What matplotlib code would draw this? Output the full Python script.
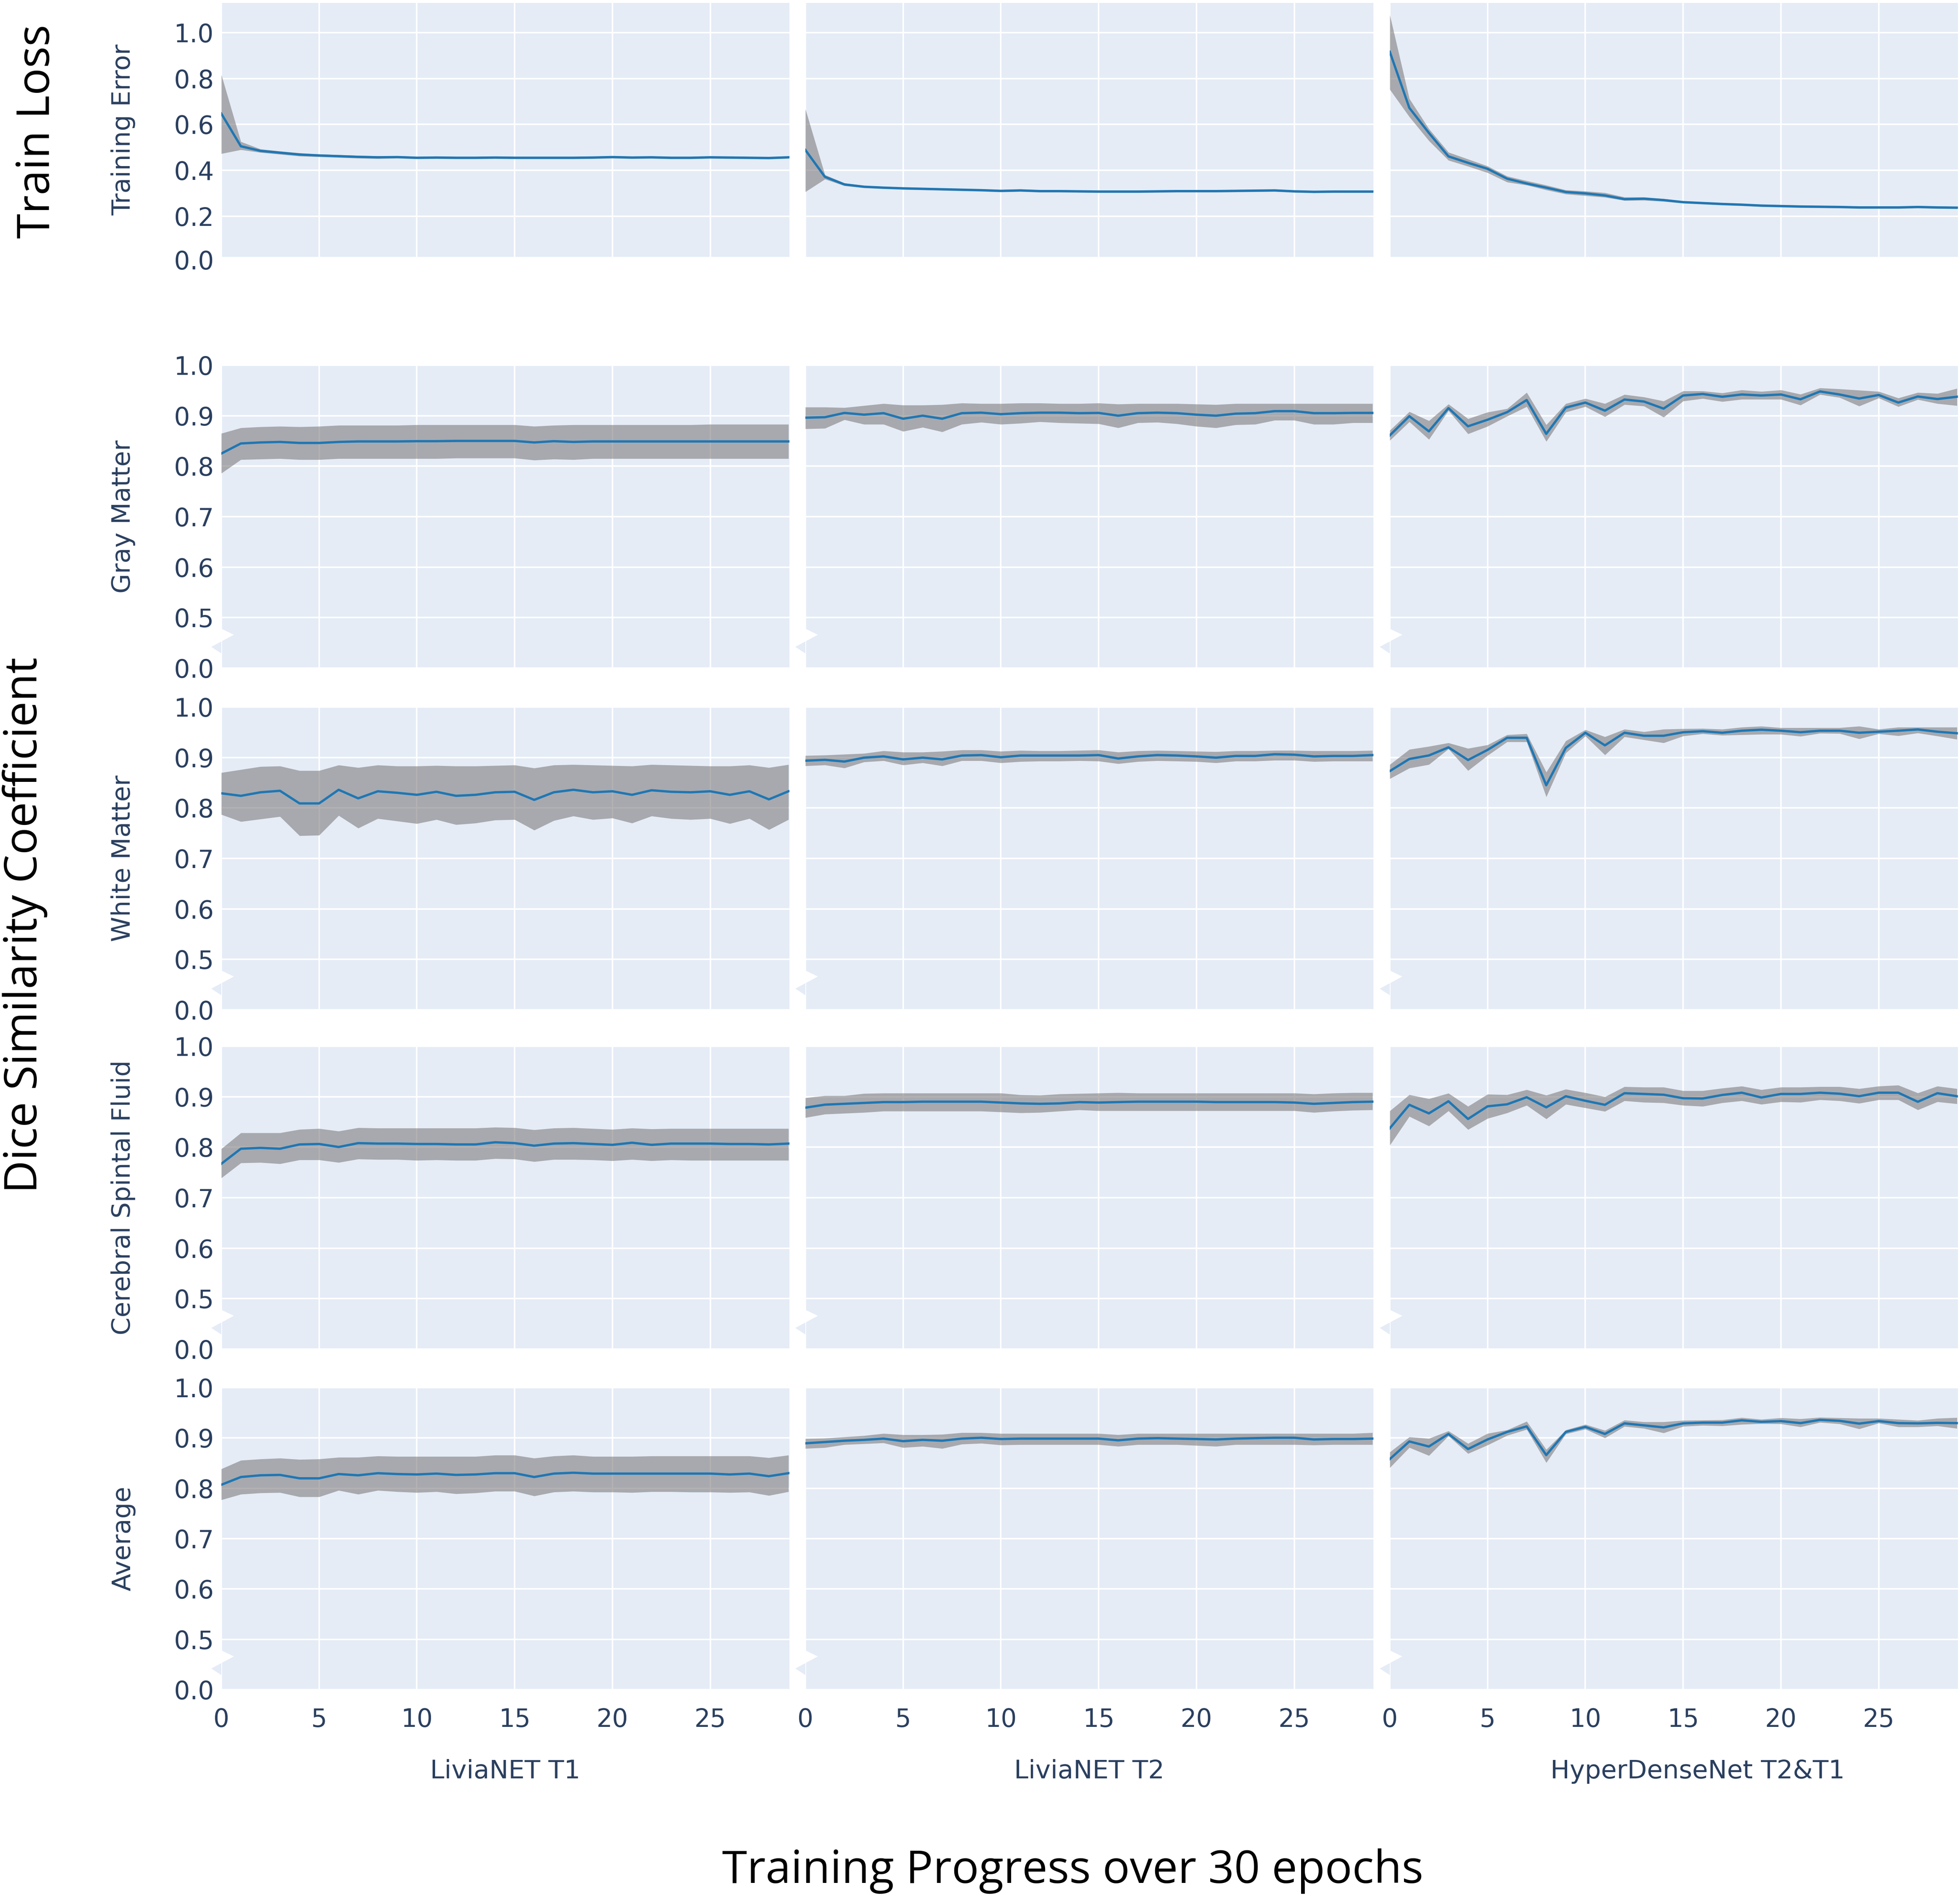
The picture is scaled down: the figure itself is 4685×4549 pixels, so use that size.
import numpy as np
import matplotlib
matplotlib.use('Agg')
from matplotlib import pyplot as plt
from matplotlib.patches import Polygon

epochs = np.arange(30)

models = ['LiviaNET T1', 'LiviaNET T2', 'HyperDenseNet T2&T1']
metrics = ['Training Error', 'Gray Matter', 'White Matter', 'Cerebral Spintal Fluid', 'Average']

# ---- train loss (mean, upper, lower) ----
loss_t1 = [0.647, 0.505, 0.485, 0.477, 0.469, 0.465, 0.462, 0.459, 0.457, 0.458, 0.455, 0.456, 0.455, 0.455, 0.456,
           0.455, 0.455, 0.455, 0.455, 0.456, 0.458, 0.456, 0.457, 0.455, 0.455, 0.457, 0.456, 0.455, 0.454, 0.457]
loss_t1_hi = [0.816, 0.525, 0.493, 0.484, 0.476, 0.471, 0.468, 0.465, 0.463, 0.463, 0.460, 0.461, 0.460, 0.460, 0.461,
              0.460, 0.460, 0.460, 0.460, 0.461, 0.463, 0.461, 0.462, 0.460, 0.460, 0.462, 0.461, 0.460, 0.459, 0.462]
loss_t1_lo = [0.473, 0.490, 0.478, 0.470, 0.462, 0.459, 0.456, 0.453, 0.451, 0.453, 0.450, 0.451, 0.450, 0.450, 0.451,
              0.450, 0.450, 0.450, 0.450, 0.451, 0.453, 0.451, 0.452, 0.450, 0.450, 0.452, 0.451, 0.450, 0.449, 0.452]

loss_t2 = [0.489, 0.372, 0.339, 0.329, 0.325, 0.322, 0.320, 0.318, 0.316, 0.314, 0.311, 0.313, 0.310, 0.310, 0.309,
           0.308, 0.308, 0.308, 0.309, 0.310, 0.310, 0.310, 0.311, 0.312, 0.313, 0.309, 0.307, 0.308, 0.308, 0.308]
loss_t2_hi = [0.667, 0.381, 0.345, 0.334, 0.330, 0.327, 0.325, 0.323, 0.321, 0.319, 0.316, 0.318, 0.315, 0.315, 0.314,
              0.313, 0.313, 0.313, 0.314, 0.315, 0.315, 0.315, 0.316, 0.317, 0.318, 0.314, 0.312, 0.313, 0.313, 0.313]
loss_t2_lo = [0.307, 0.362, 0.333, 0.324, 0.320, 0.317, 0.315, 0.313, 0.311, 0.309, 0.306, 0.308, 0.305, 0.305, 0.304,
              0.303, 0.303, 0.303, 0.304, 0.305, 0.305, 0.305, 0.306, 0.307, 0.308, 0.304, 0.302, 0.303, 0.303, 0.303]

loss_hd = [0.916, 0.672, 0.563, 0.461, 0.433, 0.407, 0.364, 0.343, 0.325, 0.306, 0.300, 0.291, 0.275, 0.277, 0.271,
           0.262, 0.258, 0.254, 0.251, 0.247, 0.245, 0.243, 0.242, 0.241, 0.239, 0.239, 0.239, 0.241, 0.239, 0.238]
loss_hd_hi = [1.076, 0.712, 0.581, 0.479, 0.449, 0.419, 0.375, 0.355, 0.336, 0.315, 0.310, 0.303, 0.284, 0.284, 0.277,
              0.267, 0.263, 0.259, 0.256, 0.252, 0.250, 0.248, 0.247, 0.246, 0.244, 0.244, 0.244, 0.246, 0.244, 0.243]
loss_hd_lo = [0.752, 0.633, 0.529, 0.444, 0.418, 0.390, 0.349, 0.336, 0.315, 0.297, 0.290, 0.283, 0.269, 0.270, 0.265,
              0.257, 0.253, 0.249, 0.246, 0.242, 0.240, 0.238, 0.237, 0.236, 0.234, 0.234, 0.234, 0.236, 0.234, 0.233]

# ---- gray matter dice ----
gm_t1 = [0.825, 0.845, 0.847, 0.848, 0.846, 0.846, 0.848, 0.849, 0.849, 0.849, 0.8495, 0.8495, 0.850, 0.850, 0.850,
         0.850, 0.847, 0.8495, 0.848, 0.849, 0.849, 0.849, 0.849, 0.849, 0.849, 0.849, 0.849, 0.849, 0.849, 0.849]
gm_t1_hi = [0.865, 0.876, 0.878, 0.879, 0.878, 0.879, 0.881, 0.881, 0.881, 0.881, 0.882, 0.882, 0.882, 0.882, 0.882,
            0.882, 0.879, 0.881, 0.882, 0.882, 0.882, 0.882, 0.882, 0.882, 0.882, 0.883, 0.883, 0.883, 0.883, 0.883]
gm_t1_lo = [0.786, 0.813, 0.814, 0.815, 0.813, 0.813, 0.815, 0.815, 0.815, 0.815, 0.815, 0.815, 0.816, 0.816, 0.816,
            0.816, 0.812, 0.814, 0.813, 0.815, 0.815, 0.815, 0.815, 0.815, 0.815, 0.815, 0.815, 0.815, 0.815, 0.815]

gm_t2 = [0.896, 0.897, 0.9055, 0.902, 0.905, 0.894, 0.900, 0.894, 0.905, 0.906, 0.903, 0.905, 0.906, 0.906, 0.905,
         0.9055, 0.900, 0.905, 0.906, 0.905, 0.902, 0.900, 0.904, 0.905, 0.909, 0.909, 0.905, 0.905, 0.9055, 0.9055]
gm_t2_hi = [0.917, 0.917, 0.916, 0.920, 0.924, 0.921, 0.921, 0.922, 0.925, 0.924, 0.924, 0.925, 0.925, 0.924, 0.924,
            0.925, 0.923, 0.924, 0.924, 0.924, 0.923, 0.922, 0.924, 0.924, 0.924, 0.924, 0.924, 0.924, 0.924, 0.924]
gm_t2_lo = [0.874, 0.875, 0.892, 0.883, 0.883, 0.869, 0.877, 0.868, 0.883, 0.887, 0.883, 0.885, 0.888, 0.886, 0.885,
            0.884, 0.876, 0.886, 0.887, 0.884, 0.879, 0.876, 0.882, 0.883, 0.891, 0.891, 0.883, 0.883, 0.886, 0.886]

gm_hd = [0.861, 0.899, 0.869, 0.915, 0.879, 0.892, 0.907, 0.931, 0.864, 0.916, 0.926, 0.910, 0.932, 0.928, 0.914,
         0.940, 0.943, 0.9375, 0.942, 0.940, 0.942, 0.9325, 0.948, 0.942, 0.934, 0.941, 0.926, 0.938, 0.933, 0.9375]
gm_hd_hi = [0.871, 0.908, 0.890, 0.923, 0.894, 0.907, 0.914, 0.946, 0.882, 0.924, 0.934, 0.924, 0.942, 0.937, 0.929,
            0.949, 0.949, 0.945, 0.951, 0.948, 0.951, 0.9425, 0.955, 0.953, 0.9505, 0.948, 0.935, 0.946, 0.944, 0.954]
gm_hd_lo = [0.851, 0.888, 0.853, 0.910, 0.864, 0.879, 0.899, 0.918, 0.849, 0.907, 0.918, 0.898, 0.922, 0.919, 0.897,
            0.929, 0.934, 0.928, 0.9325, 0.9325, 0.9325, 0.921, 0.942, 0.936, 0.919, 0.935, 0.918, 0.932, 0.924, 0.920]

# ---- white matter dice ----
wm_t1 = [0.829, 0.824, 0.831, 0.834, 0.809, 0.809, 0.836, 0.819, 0.833, 0.830, 0.826, 0.832, 0.824, 0.826, 0.831,
         0.832, 0.816, 0.831, 0.836, 0.831, 0.833, 0.826, 0.835, 0.832, 0.831, 0.833, 0.826, 0.833, 0.817, 0.833]
wm_t1_hi = [0.870, 0.876, 0.882, 0.883, 0.874, 0.874, 0.885, 0.880, 0.885, 0.883, 0.883, 0.884, 0.883, 0.883, 0.884,
            0.885, 0.879, 0.885, 0.886, 0.885, 0.884, 0.883, 0.886, 0.885, 0.884, 0.883, 0.883, 0.885, 0.880, 0.886]
wm_t1_lo = [0.787, 0.773, 0.778, 0.783, 0.745, 0.746, 0.785, 0.760, 0.779, 0.774, 0.769, 0.777, 0.767, 0.770, 0.776,
            0.777, 0.756, 0.775, 0.784, 0.777, 0.780, 0.770, 0.784, 0.779, 0.777, 0.779, 0.769, 0.779, 0.757, 0.777]

wm_t2 = [0.8936, 0.8953, 0.8919, 0.8996, 0.9021, 0.8962, 0.8996, 0.8962, 0.9038, 0.9047, 0.9004, 0.9038, 0.9038,
         0.9038, 0.9038, 0.9047, 0.8979, 0.9021, 0.9047, 0.9038, 0.9021, 0.8996, 0.903, 0.903, 0.9064, 0.9055,
         0.9021, 0.903, 0.903, 0.9047]
wm_t2_hi = [0.9038, 0.9047, 0.9064, 0.9081, 0.9132, 0.9106, 0.9106, 0.9123, 0.9149, 0.9149, 0.9123, 0.914, 0.9132,
            0.9132, 0.914, 0.9149, 0.9106, 0.9132, 0.914, 0.9132, 0.9123, 0.9115, 0.9132, 0.9132, 0.914, 0.914,
            0.9132, 0.9132, 0.9132, 0.914]
wm_t2_lo = [0.8834, 0.8851, 0.8792, 0.8911, 0.8936, 0.8851, 0.8894, 0.8834, 0.8936, 0.8936, 0.8894, 0.8919, 0.8928,
            0.8928, 0.8936, 0.8928, 0.8877, 0.8919, 0.8936, 0.8928, 0.8919, 0.8894, 0.8928, 0.8928, 0.8945, 0.8945,
            0.8919, 0.8928, 0.8928, 0.8928]

wm_hd = [0.873, 0.897, 0.904, 0.920, 0.895, 0.915, 0.939, 0.939, 0.845, 0.919, 0.949, 0.924, 0.949, 0.943, 0.943,
         0.950, 0.952, 0.949, 0.953, 0.955, 0.953, 0.950, 0.953, 0.953, 0.949, 0.951, 0.953, 0.9555, 0.951, 0.948]
wm_hd_hi = [0.886, 0.916, 0.922, 0.929, 0.918, 0.925, 0.945, 0.947, 0.871, 0.933, 0.955, 0.941, 0.956, 0.951, 0.956,
            0.957, 0.9575, 0.956, 0.960, 0.962, 0.959, 0.959, 0.959, 0.959, 0.962, 0.956, 0.960, 0.960, 0.960, 0.960]
wm_hd_lo = [0.858, 0.879, 0.886, 0.917, 0.874, 0.904, 0.931, 0.931, 0.822, 0.909, 0.9425, 0.905, 0.941, 0.935, 0.929,
            0.9425, 0.947, 0.944, 0.945, 0.946, 0.946, 0.942, 0.948, 0.9475, 0.937, 0.947, 0.943, 0.9485, 0.9425, 0.936]

# ---- csf dice ----
csf_t1 = [0.7672, 0.797, 0.7987, 0.797, 0.8055, 0.8064, 0.8004, 0.8081, 0.8072, 0.8072, 0.8064, 0.8064, 0.8055,
          0.8055, 0.8098, 0.8081, 0.803, 0.8072, 0.8081, 0.8064, 0.8047, 0.8089, 0.8047, 0.8072, 0.8072, 0.8072,
          0.8064, 0.8064, 0.8055, 0.8072]
csf_t1_hi = [0.797, 0.8285, 0.8285, 0.8285, 0.8353, 0.837, 0.8319, 0.8387, 0.8379, 0.8379, 0.8379, 0.8379, 0.8379,
             0.8379, 0.8396, 0.8387, 0.8345, 0.8379, 0.8387, 0.837, 0.8353, 0.8379, 0.8362, 0.837, 0.837, 0.837,
             0.837, 0.837, 0.837, 0.837]
csf_t1_lo = [0.7391, 0.7689, 0.7698, 0.7672, 0.7749, 0.7749, 0.7698, 0.7766, 0.7757, 0.7757, 0.774, 0.7749, 0.774,
             0.774, 0.7774, 0.7766, 0.7715, 0.7757, 0.7757, 0.7749, 0.7732, 0.7757, 0.7732, 0.7749, 0.774, 0.774,
             0.774, 0.774, 0.774, 0.774]

csf_t2 = [0.8783, 0.8843, 0.886, 0.8877, 0.8894, 0.8894, 0.8902, 0.8902, 0.8902, 0.8902, 0.8885, 0.8868, 0.886,
          0.8868, 0.8894, 0.8885, 0.8894, 0.8902, 0.8902, 0.8902, 0.8902, 0.8894, 0.8894, 0.8894, 0.8894, 0.8885,
          0.886, 0.8877, 0.8894, 0.8902]
csf_t2_hi = [0.8979, 0.9021, 0.9021, 0.9064, 0.9072, 0.9072, 0.9072, 0.9072, 0.9072, 0.9072, 0.9072, 0.9038, 0.903,
             0.9055, 0.9064, 0.9072, 0.9081, 0.9072, 0.9072, 0.9072, 0.9072, 0.9072, 0.9072, 0.9072, 0.9072, 0.9072,
             0.9055, 0.9072, 0.9081, 0.9081]
csf_t2_lo = [0.8587, 0.8655, 0.8672, 0.8689, 0.8715, 0.8715, 0.8715, 0.8715, 0.8715, 0.8715, 0.8698, 0.8681, 0.8689,
             0.8715, 0.874, 0.8723, 0.8723, 0.8723, 0.8723, 0.8723, 0.8723, 0.8723, 0.8723, 0.8723, 0.8723, 0.8723,
             0.8689, 0.8715, 0.8732, 0.874]

csf_hd = [0.8375, 0.884, 0.867, 0.891, 0.856, 0.881, 0.885, 0.899, 0.879, 0.901, 0.892, 0.884, 0.907, 0.9055, 0.904,
          0.897, 0.8965, 0.9035, 0.908, 0.8985, 0.9055, 0.9055, 0.908, 0.906, 0.901, 0.908, 0.908, 0.890, 0.907, 0.901]
csf_hd_hi = [0.872, 0.904, 0.896, 0.907, 0.881, 0.905, 0.904, 0.914, 0.903, 0.915, 0.908, 0.900, 0.920, 0.919, 0.919,
             0.912, 0.912, 0.917, 0.921, 0.914, 0.919, 0.919, 0.920, 0.920, 0.916, 0.921, 0.923, 0.9075, 0.921, 0.916]
csf_hd_lo = [0.804, 0.861, 0.842, 0.872, 0.835, 0.857, 0.868, 0.883, 0.856, 0.885, 0.878, 0.871, 0.892, 0.889, 0.888,
             0.883, 0.881, 0.888, 0.892, 0.885, 0.890, 0.889, 0.894, 0.892, 0.887, 0.894, 0.894, 0.874, 0.890, 0.886]

# ---- average dice ----
avg_t1 = [0.807, 0.8224, 0.8258, 0.8266, 0.8198, 0.8198, 0.8283, 0.8258, 0.830, 0.8283, 0.8275, 0.8292, 0.8266,
          0.8275, 0.830, 0.830, 0.8224, 0.8292, 0.8309, 0.8292, 0.8292, 0.8292, 0.8292, 0.8292, 0.8292, 0.8292,
          0.8275, 0.8292, 0.824, 0.830]
avg_t1_hi = [0.8386, 0.8556, 0.8582, 0.8599, 0.8573, 0.8582, 0.8616, 0.8616, 0.8642, 0.8633, 0.8633, 0.8633, 0.8633,
             0.8633, 0.8659, 0.8659, 0.8599, 0.8642, 0.8659, 0.8633, 0.8633, 0.8633, 0.8642, 0.8642, 0.8642, 0.8642,
             0.8642, 0.8642, 0.8608, 0.8659]
avg_t1_lo = [0.7771, 0.7882, 0.7908, 0.7916, 0.7831, 0.7831, 0.7959, 0.7882, 0.7959, 0.7933, 0.7916, 0.7933, 0.7891,
             0.7908, 0.7942, 0.7942, 0.7848, 0.7925, 0.7942, 0.7925, 0.7925, 0.7916, 0.7933, 0.7933, 0.7925, 0.7925,
             0.7916, 0.7925, 0.7857, 0.7933]

avg_t2 = [0.8894, 0.8919, 0.8945, 0.8962, 0.8987, 0.8936, 0.8962, 0.8945, 0.8987, 0.9004, 0.8979, 0.8987, 0.8987,
          0.8987, 0.8987, 0.8987, 0.8953, 0.8987, 0.8996, 0.8987, 0.8979, 0.897, 0.8987, 0.8996, 0.9004, 0.9004,
          0.897, 0.8979, 0.8979, 0.8987]
avg_t2_hi = [0.8987, 0.8996, 0.9021, 0.9047, 0.9089, 0.9064, 0.9064, 0.9072, 0.9106, 0.9106, 0.9089, 0.9089, 0.9089,
             0.9089, 0.9089, 0.9089, 0.9064, 0.9089, 0.9089, 0.9089, 0.9089, 0.9089, 0.9089, 0.9089, 0.9089, 0.9089,
             0.9089, 0.9089, 0.9089, 0.9106]
avg_t2_lo = [0.8791, 0.8809, 0.8868, 0.8885, 0.8902, 0.8809, 0.8834, 0.8791, 0.8877, 0.8894, 0.886, 0.8868, 0.8868,
             0.8868, 0.8868, 0.8868, 0.8834, 0.8868, 0.8868, 0.8868, 0.8851, 0.8834, 0.8868, 0.8868, 0.8868, 0.8868,
             0.886, 0.8868, 0.8868, 0.8868]

avg_hd = [0.858, 0.893, 0.883, 0.908, 0.878, 0.897, 0.912, 0.923, 0.866, 0.912, 0.922, 0.908, 0.929, 0.925, 0.921,
          0.929, 0.9305, 0.9305, 0.935, 0.932, 0.9335, 0.9295, 0.936, 0.934, 0.9285, 0.9335, 0.9295, 0.929, 0.930, 0.9295]
avg_hd_hi = [0.872, 0.902, 0.899, 0.914, 0.889, 0.909, 0.916, 0.933, 0.877, 0.916, 0.927, 0.915, 0.9355, 0.932, 0.932,
             0.935, 0.9355, 0.936, 0.9405, 0.937, 0.940, 0.938, 0.941, 0.940, 0.939, 0.939, 0.937, 0.935, 0.939, 0.9405]
avg_hd_lo = [0.841, 0.881, 0.865, 0.904, 0.869, 0.886, 0.905, 0.917, 0.851, 0.908, 0.9175, 0.900, 0.923, 0.919, 0.910,
             0.923, 0.925, 0.924, 0.927, 0.9285, 0.928, 0.922, 0.931, 0.928, 0.918, 0.9295, 0.922, 0.922, 0.924, 0.919]

grid = [
    [(loss_t1, loss_t1_hi, loss_t1_lo), (loss_t2, loss_t2_hi, loss_t2_lo), (loss_hd, loss_hd_hi, loss_hd_lo)],
    [(gm_t1, gm_t1_hi, gm_t1_lo), (gm_t2, gm_t2_hi, gm_t2_lo), (gm_hd, gm_hd_hi, gm_hd_lo)],
    [(wm_t1, wm_t1_hi, wm_t1_lo), (wm_t2, wm_t2_hi, wm_t2_lo), (wm_hd, wm_hd_hi, wm_hd_lo)],
    [(csf_t1, csf_t1_hi, csf_t1_lo), (csf_t2, csf_t2_hi, csf_t2_lo), (csf_hd, csf_hd_hi, csf_hd_lo)],
    [(avg_t1, avg_t1_hi, avg_t1_lo), (avg_t2, avg_t2_hi, avg_t2_lo), (avg_hd, avg_hd_hi, avg_hd_lo)],
]

loss_ticks = [0.2, 0.4, 0.6, 0.8, 1.0]
dice_ticks = [0.4, 0.5, 0.6, 0.7, 0.8, 0.9, 1.0]
dice_ticklabels = ['0.0', '0.5', '0.6', '0.7', '0.8', '0.9', '1.0']
x_ticks = [0, 5, 10, 15, 20, 25]

# ---- layout (pixels) ----
W, H = 4685, 4549
BG = '#E5ECF6'
FONTC = '#2a3f5f'
col_left = [529, 1925, 3322]
col_w = 1358
row_top = [6.7, 873, 1690, 2501, 3317]
row_h = [607, 724, 724, 724, 722]
title_x = [1208, 2604, 4058]

plt.rcParams['font.family'] = 'DejaVu Sans'
fig = plt.figure(figsize=(W / 100, H / 100), dpi=100)


def px_axes(left, top, w, h):
    return fig.add_axes([left / W, 1 - (top + h) / H, w / W, h / H])


for r in range(5):
    for c in range(3):
        mean, hi, lo = grid[r][c]
        ax = px_axes(col_left[c], row_top[r], col_w, row_h[r])
        ax.set_facecolor(BG)
        for s in ax.spines.values():
            s.set_visible(False)
        ax.set_xlim(0, 29.05)
        ax.set_xticks(x_ticks)
        ax.grid(True, color='white', linewidth=2.6)
        ax.set_axisbelow(True)
        ax.tick_params(length=0, labelsize=43, labelcolor=FONTC, pad=13)
        ax.tick_params(axis='x', pad=31)
        if r < 4:
            ax.set_xticklabels([])
        if r == 0:
            ax.set_ylim(0.0245, 1.129)
            ax.set_yticks(loss_ticks)
            ax.set_yticklabels(['%.1f' % t for t in loss_ticks])
            if c == 0:
                ax.text(-18 / col_w, 0.0, '0.0', transform=ax.get_yaxis_transform(), ha='right', va='center',
                        fontsize=43, color=FONTC, clip_on=False)
        else:
            ax.set_ylim(0.4, 1.0)
            ax.set_yticks(dice_ticks)
            ax.set_yticklabels(dice_ticklabels)
            # axis break marker
            tr = ax.get_yaxis_transform()
            ax.add_patch(Polygon([(0, 0.478), (30 / col_w, 0.466), (0, 0.4527)], closed=True,
                                 facecolor='white', edgecolor='none', transform=tr, clip_on=False, zorder=5))
            ax.add_patch(Polygon([(0, 0.4527), (-24 / col_w, 0.442), (0, 0.429)], closed=True,
                                 facecolor=BG, edgecolor='none', transform=tr, clip_on=False, zorder=5))
        if c > 0:
            ax.set_yticklabels([])
        ax.fill_between(epochs, lo, hi, color='#737072', alpha=0.54, linewidth=0, zorder=2)
        ax.plot(epochs, mean, color='#1f77b4', linewidth=4.0, zorder=3)

# per-row metric labels
for r in range(5):
    yc = 1 - (row_top[r] + row_h[r] / 2) / H
    fig.text(295 / W, yc, metrics[r], rotation=90, ha='center', va='center', fontsize=44, color=FONTC)

# column titles
for c in range(3):
    fig.text(title_x[c] / W, 1 - 4234 / H, models[c], ha='center', va='center',
             fontsize=44, color=FONTC)

# big labels
fig.text(90 / W, 1 - 314 / H, 'Train Loss', rotation=90, ha='center', va='center',
         fontsize=78, color='black', family='Open Sans')
fig.text(60 / W, 1 - 2211 / H, 'Dice Similarity Coefficient', rotation=90, ha='center', va='center',
         fontsize=78, color='black', family='Open Sans')
fig.text(2564 / W, 1 - 4473 / H, 'Training Progress over 30 epochs', ha='center', va='center',
         fontsize=78, color='black', family='Open Sans')

fig.savefig('out.png', dpi=100, facecolor='white')
